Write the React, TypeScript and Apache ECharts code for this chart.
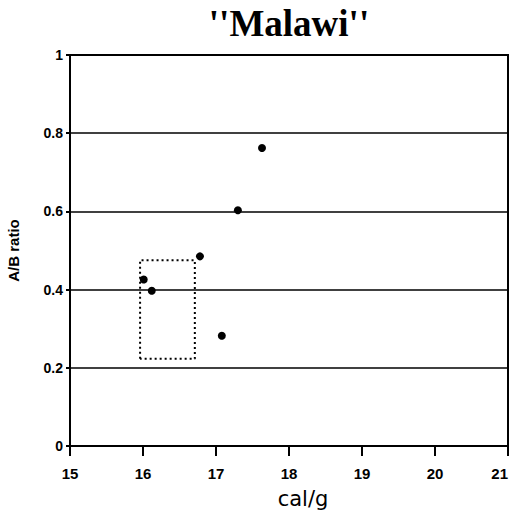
import React, { useEffect, useRef } from "react";
import * as echarts from "echarts";

const pointsX = [16.01, 16.12, 16.78, 17.08, 17.3, 17.63];
const pointsY = [0.426, 0.397, 0.485, 0.282, 0.603, 0.762];
const boxX = [15.96, 16.71];
const boxY = [0.223, 0.475];
const title = "''Malawi''";
const xName = "cal/g";
const yName = "A/B ratio";

export default function App() {
  const ref = useRef<HTMLDivElement>(null);
  useEffect(() => {
    if (!ref.current) return;
    const chart = echarts.init(ref.current, undefined, { renderer: "svg" });
    const pts = pointsX.map((x, i) => [x, pointsY[i]]);
    const box = [
      [boxX[0], boxY[0]],
      [boxX[0], boxY[1]],
      [boxX[1], boxY[1]],
      [boxX[1], boxY[0]],
      [boxX[0], boxY[0]],
    ];
    chart.setOption({
      animation: false,
      backgroundColor: "#fff",
      title: {
        text: title,
        left: 284,
        textAlign: "center",
        top: 0,
        textStyle: {
          fontFamily: "Liberation Serif",
          fontWeight: "bold",
          fontSize: 37,
          color: "#000",
        },
      },
      grid: {
        left: 70,
        right: 6,
        top: 55,
        bottom: 68,
        show: true,
        borderColor: "#000",
        borderWidth: 2,
        backgroundColor: "transparent",
        outerBoundsMode: "none",
        containLabel: false,
      },
      xAxis: {
        type: "value",
        min: 15,
        max: 21,
        interval: 1,
        name: xName,
        nameLocation: "middle",
        nameGap: 42,
        nameTextStyle: {
          fontFamily: "DejaVu Sans",
          fontSize: 21,
          color: "#000",
          padding: [0, 0, 0, 28],
        },
        axisLine: { show: true, lineStyle: { color: "#000", width: 2 } },
        axisTick: { show: true, length: 10, lineStyle: { color: "#000", width: 2 } },
        axisLabel: {
          color: "#000",
          fontFamily: "Liberation Sans",
          fontWeight: "bold",
          fontSize: 15,
          margin: 20,
          alignMaxLabel: "right",
        },
        splitLine: { show: false },
      },
      yAxis: {
        type: "value",
        min: 0,
        max: 1,
        interval: 0.2,
        name: yName,
        nameLocation: "middle",
        nameGap: 49,
        nameRotate: 90,
        nameTextStyle: {
          fontFamily: "Liberation Sans",
          fontWeight: "bold",
          fontSize: 15,
          color: "#000",
        },
        axisLine: { show: true, lineStyle: { color: "#000", width: 2 } },
        axisTick: { show: true, length: 4, lineStyle: { color: "#000", width: 2 } },
        axisLabel: {
          color: "#000",
          fontFamily: "Liberation Sans",
          fontWeight: "bold",
          fontSize: 14,
          margin: 7,
          formatter: (v: number) => String(Math.round(v * 10) / 10),
        },
        splitLine: { show: true, lineStyle: { color: "#000", width: 1.5 } },
      },
      series: [
        {
          type: "line",
          data: box,
          symbol: "none",
          lineStyle: { color: "#000", width: 2, type: [2, 3] },
          silent: true,
        },
        {
          type: "scatter",
          data: pts,
          symbol: "circle",
          symbolSize: 8,
          itemStyle: { color: "#000", opacity: 1 },
        },
      ],
    });
    return () => chart.dispose();
  }, []);
  return <div ref={ref} style={{ width: 514, height: 514, position: "absolute", left: 0, top: 0 }} />;
}
